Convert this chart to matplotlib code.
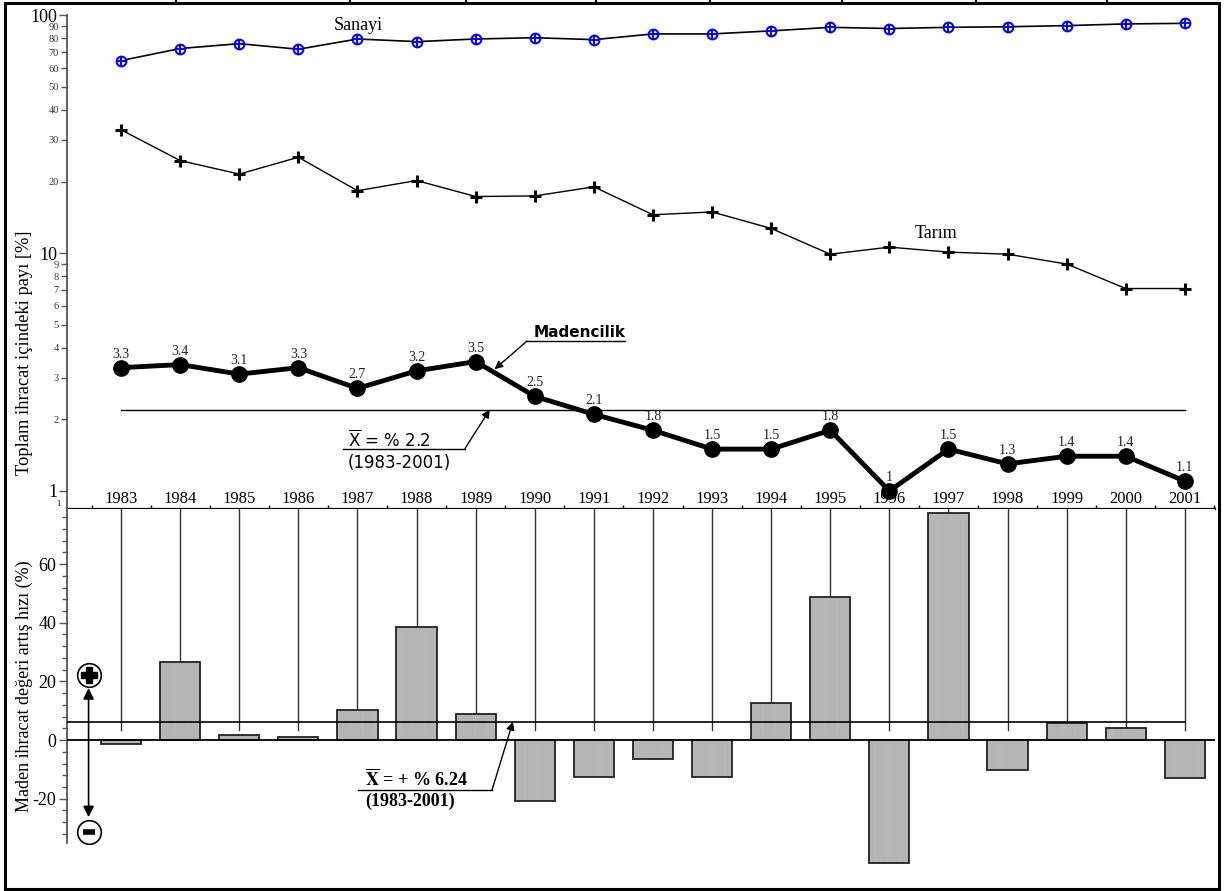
import matplotlib
matplotlib.use("Agg")
import matplotlib.pyplot as plt
from matplotlib.lines import Line2D
from matplotlib.ticker import FixedLocator, FixedFormatter, NullFormatter
import numpy as np

years = list(range(1983, 2002))

# share of total exports [%]
sanayi = [64.5, 72.5, 76.0, 72.0, 79.5, 77.5, 79.5, 80.5, 79.0, 83.5,
          83.5, 86.0, 89.0, 88.0, 89.0, 89.5, 90.5, 92.0, 92.5]
tarim = [33.0, 24.5, 21.5, 25.3, 18.3, 20.2, 17.3, 17.4, 19.0, 14.5,
         14.9, 12.7, 9.9, 10.6, 10.1, 9.9, 9.0, 7.1, 7.1]
madencilik = [3.3, 3.4, 3.1, 3.3, 2.7, 3.2, 3.5, 2.5, 2.1, 1.8,
              1.5, 1.5, 1.8, 1.0, 1.5, 1.3, 1.4, 1.4, 1.1]
madencilik_labels = ["3.3", "3.4", "3.1", "3.3", "2.7", "3.2", "3.5", "2.5", "2.1", "1.8",
                     "1.5", "1.5", "1.8", "1", "1.5", "1.3", "1.4", "1.4", "1.1"]
madencilik_mean = 2.2

# growth rate of mining export value [%]
growth = [-1.2, 26.6, 1.6, 1.2, 10.1, 38.6, 9.0, -20.8, -12.7, -6.5,
          -12.7, 12.5, 48.7, -41.8, 77.4, -10.2, 5.7, 4.0, -13.1]
growth_mean = 6.24

W, H = 1224, 891
SERIF = "Liberation Serif"


def F(x, y):
    """pixel (from top-left) -> figure fraction"""
    return x / W, 1 - y / H


plt.rcParams["hatch.linewidth"] = 0.5
plt.rcParams["axes.unicode_minus"] = False
fig = plt.figure(figsize=(W / 100, H / 100), dpi=100)

x0, x1 = 67.3, 1215
ax = fig.add_axes([x0 / W, 1 - 509 / H, (x1 - x0) / W, (509 - 15.3) / H])
axb = fig.add_axes([x0 / W, 1 - 872 / H, (x1 - x0) / W, (872 - 509) / H])
xlim = (1982.09, 2001.51)

# ---------------- upper panel (log) ----------------
ax.set_yscale("log")
ax.set_xlim(*xlim)
ax.set_ylim(0.84, 100)
for s in ["top", "right"]:
    ax.spines[s].set_visible(False)
ax.spines["left"].set_color("#555555")
ax.spines["left"].set_linewidth(1.3)
ax.spines["bottom"].set_color("black")
ax.spines["bottom"].set_linewidth(1.6)

ax.plot(years, sanayi, color="black", lw=1.2, zorder=2)
ax.plot(years, sanayi, ls="none", marker="o", ms=7, mfc="white", mec="blue", mew=1.5, zorder=3)
ax.plot(years, sanayi, ls="none", marker="+", ms=7, mec="blue", mew=1.4, zorder=4)
ax.plot(years, tarim, color="black", lw=1.0, marker="+", ms=9, mew=2.2)
ax.plot(years, madencilik, color="black", lw=3.5, marker="o", ms=11, zorder=5)
ax.plot([years[0], years[-1]], [madencilik_mean] * 2, color="black", lw=1.0)

for yr, v, lab in zip(years, madencilik, madencilik_labels):
    ax.annotate(lab, (yr, v), xytext=(0, 5), textcoords="offset points",
                ha="center", va="bottom", fontsize=10, family=SERIF, color="#222222")

ax.text(*F(358, 26), "Sanayi", transform=fig.transFigure, ha="center", va="center",
        fontsize=13, family=SERIF)
ax.text(*F(936, 234), "Tarım", transform=fig.transFigure, ha="center", va="center",
        fontsize=13, family=SERIF)

ax.yaxis.set_major_locator(FixedLocator([1, 10, 100]))
ax.yaxis.set_major_formatter(FixedFormatter(["1", "10", "100"]))
minors = [2, 3, 4, 5, 6, 7, 8, 9, 20, 30, 40, 50, 60, 70, 80, 90]
ax.yaxis.set_minor_locator(FixedLocator(minors))
ax.yaxis.set_minor_formatter(FixedFormatter([str(m) for m in minors]))
ax.tick_params(axis="y", which="major", length=6, width=1, color="#555555",
               labelsize=13, pad=1)
ax.tick_params(axis="y", which="minor", length=4, width=1, color="#555555",
               labelsize=7.5, pad=2, labelcolor="#333333")
for t in ax.get_yticklabels() + ax.get_yticklabels(minor=True):
    t.set_family(SERIF)
ax.text(-0.006, 0.885, "1", transform=ax.get_yaxis_transform(), ha="right", va="center",
        fontsize=6, family=SERIF)

# year labels above the shared line
ax.set_xticks([])
ax.xaxis.set_minor_locator(FixedLocator([y + 0.5 for y in years[:-1]] + [1982.5, 2001.5]))
ax.tick_params(axis="x", which="minor", direction="in", length=3, width=1)
ax.xaxis.set_minor_formatter(NullFormatter())
for yr in years:
    ax.annotate(str(yr), (yr, 0), xycoords=ax.get_xaxis_transform(), xytext=(0, 4.5),
                textcoords="offset points", ha="center", va="baseline",
                fontsize=12, family=SERIF)

# Madencilik label with leader
fig.text(*F(580, 332), "Madencilik", ha="center", va="center", fontsize=11,
         fontweight="bold", family="DejaVu Sans")
fig.add_artist(Line2D([527 / W, 625 / W], [1 - 341 / H] * 2, color="black", lw=1))
ax.annotate("", xy=(1989.32, 3.25), xytext=F(527, 341), textcoords="figure fraction",
            arrowprops=dict(arrowstyle="-|>", color="black", lw=1, mutation_scale=12,
                            shrinkA=0, shrinkB=0))

# mean annotation (upper)
fig.text(*F(348, 440), r"$\overline{\mathrm{X}}$ = % 2.2", ha="left", va="center",
         fontsize=12, family="DejaVu Sans", math_fontfamily="dejavusans")
fig.text(*F(348, 463), "(1983-2001)", ha="left", va="center", fontsize=12,
         family="DejaVu Sans")
fig.add_artist(Line2D([343 / W, 465 / W], [1 - 448.5 / H] * 2, color="black", lw=1))
ax.annotate("", xy=(1989.24, madencilik_mean), xytext=F(465, 448.5),
            textcoords="figure fraction",
            arrowprops=dict(arrowstyle="-|>", color="black", lw=1, mutation_scale=12,
                            shrinkA=0, shrinkB=0))

# ---------------- lower panel (bars) ----------------
axb.set_xlim(*xlim)
axb.set_ylim(-45, 78.8)
for s in ["top", "right", "bottom"]:
    axb.spines[s].set_visible(False)
axb.spines["left"].set_bounds(-35, 78.8)
axb.spines["left"].set_color("#555555")
axb.spines["left"].set_linewidth(1.3)
axb.set_xticks([])
axb.set_yticks([-20, 0, 20, 40, 60])
axb.set_yticks(np.arange(-32, 78, 4), minor=True)
axb.tick_params(axis="y", which="major", length=6, width=1, color="#555555",
                labelsize=13, pad=2)
axb.tick_params(axis="y", which="minor", length=3.5, width=1, color="#555555")
for t in axb.get_yticklabels():
    t.set_family(SERIF)

axb.bar(years, growth, width=0.68, color="#c8c8c8", edgecolor="#b0b0b0", lw=0,
        hatch="|" * 18, zorder=2)
axb.bar(years, growth, width=0.68, color="none", edgecolor="#222222", lw=1.3, zorder=3)

top = axb.get_ylim()[1]
for yr, v in zip(years, growth):
    axb.plot([yr, yr], [top, max(v, 3.3)], color="#333333", lw=1.0, zorder=1)

axb.axhline(0, color="black", lw=1.3, zorder=4)
axb.plot([xlim[0], years[-1]], [growth_mean] * 2, color="black", lw=1.2, zorder=4)

# +/- symbols and double arrow
axb.annotate("", xy=(1982.45, -26.3), xytext=(1982.45, 17.7),
             arrowprops=dict(arrowstyle="<|-|>", color="black", lw=1.2, mutation_scale=16,
                             shrinkA=0, shrinkB=0), zorder=5)
axb.plot([1982.45], [22.2], marker="o", ms=17, mfc="white", mec="black", mew=1.2,
         clip_on=False, zorder=6)
axb.plot([1982.45], [22.2], marker="P", ms=12, color="black", clip_on=False, zorder=7)
axb.plot([1982.45], [-31.4], marker="o", ms=17, mfc="white", mec="black", mew=1.2,
         clip_on=False, zorder=6)
axb.plot([1982.45], [-31.4], marker="_", ms=8, mew=4, color="black", clip_on=False,
         zorder=7)

# mean annotation (lower)
fig.text(*F(365, 779), r"$\overline{\mathbf{X}}$ = + % 6.24", ha="left", va="center",
         fontsize=13, fontweight="bold", family=SERIF, math_fontfamily="stix")
fig.text(*F(365, 801), "(1983-2001)", ha="left", va="center", fontsize=13,
         fontweight="bold", family=SERIF)
fig.add_artist(Line2D([358 / W, 492 / W], [1 - 790 / H] * 2, color="black", lw=1))
axb.annotate("", xy=(1989.63, growth_mean), xytext=F(492, 790), textcoords="figure fraction",
             arrowprops=dict(arrowstyle="-|>", color="black", lw=1, mutation_scale=12,
                             shrinkA=0, shrinkB=0), zorder=6)

# axis titles
fig.text(*F(25, 353), "Toplam ihracat içindeki payı [%]", rotation=90, ha="center",
         va="center", fontsize=13.3, family=SERIF)
fig.text(*F(24, 686), "Maden ihracat değeri artış hızı (%)", rotation=90, ha="center",
         va="center", fontsize=13, family=SERIF)

# page frame and table remnants at the top
fig.add_artist(plt.Rectangle((5 / W, 2 / H), 1214 / W, 1 - 5 / H, transform=fig.transFigure,
                             fill=False, lw=2.2, color="black"))
for xs in [176, 350, 466, 596, 710, 842, 976, 1107]:
    fig.add_artist(Line2D([xs / W] * 2, [1, 1 - 4 / H], color="black", lw=1.5))

fig.savefig("out.png", dpi=100)
